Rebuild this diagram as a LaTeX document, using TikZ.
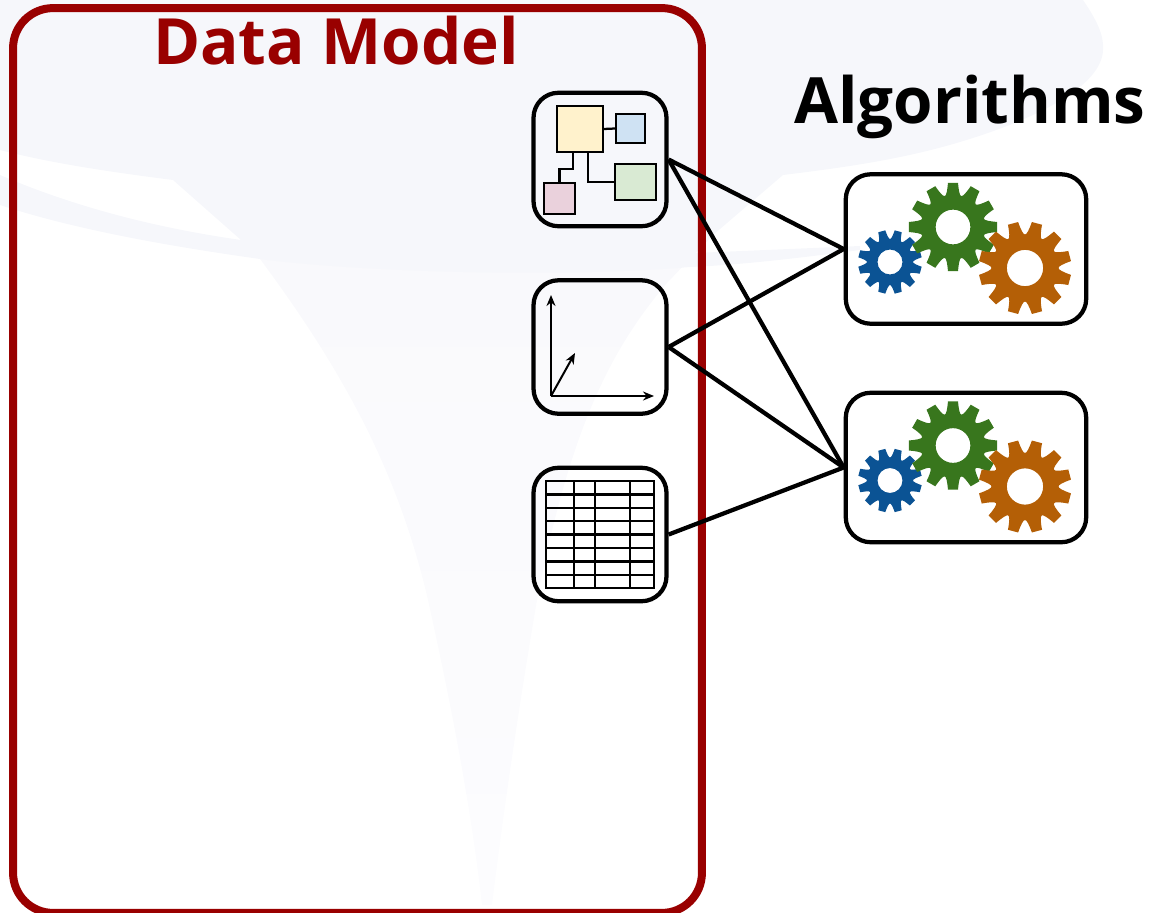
\documentclass[tikz,border=0pt]{standalone}
\usepackage{fontspec}
\setmainfont{Open Sans}
\usepackage{xcolor}
\usepackage{tikz}
\usetikzlibrary{arrows.meta}
\definecolor{framered}{HTML}{990000}
\definecolor{bgtint}{HTML}{F6F7FB}
\definecolor{bgmid}{HTML}{F9F9FC}
\definecolor{bgfade}{HTML}{FCFCFE}
\definecolor{gearblue}{HTML}{0B5394}
\definecolor{geargreen}{HTML}{38761D}
\definecolor{gearorange}{HTML}{B45F06}
\definecolor{entityyellow}{HTML}{FFF2CC}
\definecolor{entityblue}{HTML}{CFE2F3}
\definecolor{entitygreen}{HTML}{D9EAD3}
\definecolor{entitypink}{HTML}{EAD1DC}
\tikzset{
  title/.style={font=\bfseries\fontsize{36.3}{40}\selectfont,anchor=base,inner sep=0pt},
  frame/.style={draw=framered,line width=.16cm,rounded corners=.8cm,inner sep=0pt,minimum width=13.78cm,minimum height=18.1cm},
  store/.style={draw,line width=.085cm,rounded corners=.5cm,inner sep=0pt,minimum width=2.66cm,minimum height=2.67cm},
  algo/.style={draw,line width=.085cm,rounded corners=.5cm,inner sep=0pt,minimum width=4.81cm,minimum height=2.99cm},
  link/.style={line width=.085cm},
  entity/.style={draw,line width=.04cm,inner sep=0pt},
  axis/.style={line width=.04cm,-{Stealth[length=.22cm,width=.18cm]}},
  grid/.style={line width=.045cm}
}
\newcommand{\gearwheel}[5]{
\fill[#5,even odd rule,shift={(#1,#2)}] ({#4-6.5}:#3)
\foreach \a in {0,30,...,330}{
 -- ({#4+\a-6.5}:#3) -- ({#4+\a+6.5}:#3)
 .. controls ({#4+\a+9}:{.82*#3}) and ({#4+\a+12}:{.72*#3}) .. ({#4+\a+15}:{.72*#3})
 .. controls ({#4+\a+18}:{.72*#3}) and ({#4+\a+21}:{.82*#3}) .. ({#4+\a+23.5}:#3)
} -- cycle (0,0) circle ({.39*#3});
}
\newcommand{\gearset}[1]{
\gearwheel{890}{#1+262}{32}{15}{gearblue}
\gearwheel{953}{#1+227}{44.5}{0}{geargreen}
\gearwheel{1025}{#1+268}{46.5}{15}{gearorange}
}

\begin{document}
\begin{tikzpicture}[x=.02cm,y=-.02cm]
\useasboundingbox (0,0) rectangle (1150,913);
\shade[top color=bgmid,bottom color=bgfade,shading angle=0] (260,259) -- (713,235) -- (667,283)
 .. controls (610,350) and (570,430) .. (537,600) .. controls (520,700) and (505,800) .. (492,905)
 -- (482,905) .. controls (470,800) and (450,700) .. (428,600) .. controls (400,480) and (350,380) .. (260,259) -- cycle;
\fill[bgtint] (0,0) -- (1083,0) .. controls (1098,22) and (1104,36) .. (1103,50)
 .. controls (1102,85) and (1040,118) .. (960,142) .. controls (900,160) and (840,168) .. (783,175)
 -- (713,235) -- (695,253) -- (860,246) -- (860,250) .. controls (800,258) and (740,265) .. (690,267)
 .. controls (560,278) and (360,272) .. (260,259)
 .. controls (160,245) and (70,228) .. (0,205) -- (0,175)
 .. controls (70,205) and (150,227) .. (241,240) -- (173,180)
 .. controls (110,172) and (50,163) .. (0,150) -- cycle;

\node[frame] (model) at (357.5,460.5) {};
\node[title,text=framered] (modeltitle) at (336,64) {Data Model};
\node[title] (algotitle) at (970,123) {Algorithms};

\node[store] (schema) at (600,159.5) {};
\node[store] (vector) at (600,347) {};
\node[store] (tabular) at (600,534.5) {};
\node[algo] (algoA) at (966,249) {};
\node[algo] (algoB) at (966,467.5) {};

\draw[link] (schema.east) -- (algoA.west);
\draw[link] (schema.east) -- (algoB.west);
\draw[link] (vector.east) -- (algoA.west);
\draw[link] (vector.east) -- (algoB.west);
\draw[link] (tabular.east) -- (algoB.west);

\node[entity,fill=entityyellow,minimum width=.92cm,minimum height=.92cm] (yellowbox) at (579.5,129) {};
\node[entity,fill=entityblue,minimum width=.57cm,minimum height=.57cm] (bluebox) at (630.5,128.5) {};
\node[entity,fill=entitygreen,minimum width=.81cm,minimum height=.71cm] (greenbox) at (635.5,182) {};
\node[entity,fill=entitypink,minimum width=.61cm,minimum height=.61cm] (pinkbox) at (559.5,198.5) {};
\draw[grid] (yellowbox.east) -- (bluebox.west);
\draw[grid] ([xshift=.17cm]yellowbox.south) |- (greenbox.west);
\draw[grid] ([xshift=-.13cm]yellowbox.south) -- ++(0,16) -| (pinkbox.north);

\coordinate (origin) at (551,396);
\coordinate (axisY) at (551,295);
\coordinate (axisX) at (654,396);
\coordinate (axisZ) at (575,353);
\draw[axis] (origin) -- (axisY);
\draw[axis] (origin) -- (axisX);
\draw[axis] (origin) -- (axisZ);

\draw[grid] (546,481) rectangle (654,588);
\foreach \x in {574,595,630}
  \draw[grid] (\x,481) -- (\x,588);
\foreach \y in {1,...,7}
  \draw[grid] (546,{481+\y*13.4}) -- (654,{481+\y*13.4});

\gearset{0}
\gearset{218.5}
\end{tikzpicture}
\end{document}
